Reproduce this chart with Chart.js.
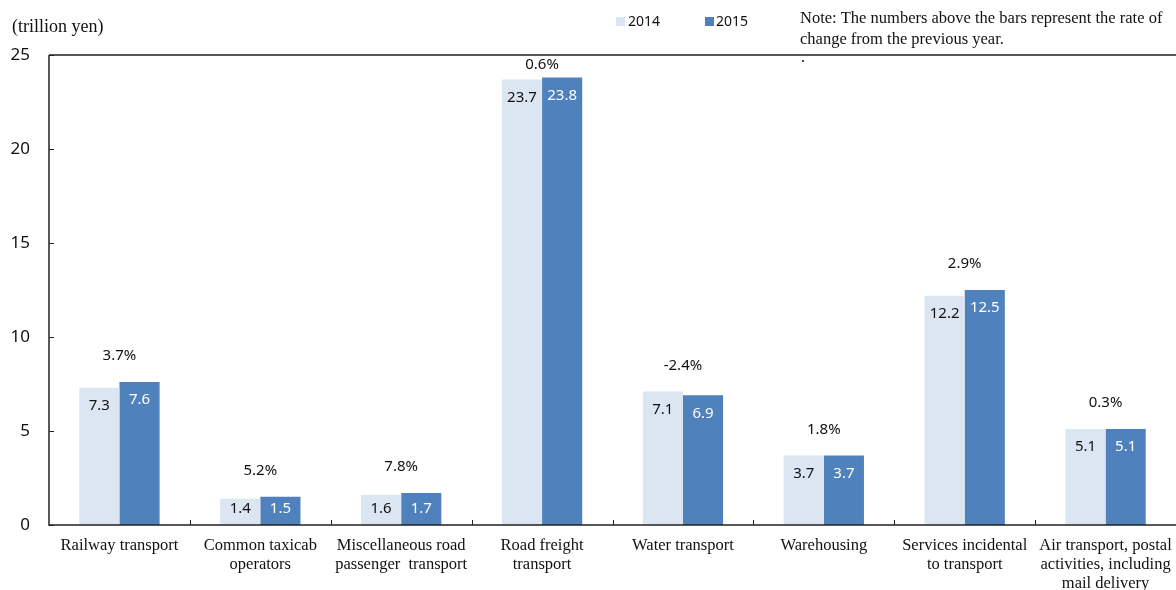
<!DOCTYPE html>
<html lang="en">
<head>
  <meta charset="UTF-8">
  <title>Transport industry output</title>
  <script src="https://cdn.jsdelivr.net/npm/chart.js"></script>
  <style>
    html, body { margin: 0; padding: 0; background: #fff; }
    #wrap { width: 1176px; height: 590px; position: relative; }
  </style>
</head>
<body>
  <div id="wrap"><canvas id="chart" width="1176" height="590"></canvas></div>

  <script>
    const categories = [
      ['Railway transport'],
      ['Common taxicab', 'operators'],
      ['Miscellaneous road', 'passenger  transport'],
      ['Road freight', 'transport'],
      ['Water transport'],
      ['Warehousing'],
      ['Services incidental', 'to transport'],
      ['Air transport, postal', 'activities, including', 'mail delivery']
    ];
    const values2014 = [7.3, 1.4, 1.6, 23.7, 7.1, 3.7, 12.2, 5.1];
    const values2015 = [7.6, 1.5, 1.7, 23.8, 6.9, 3.7, 12.5, 5.1];
    const changeRates = ['3.7%', '5.2%', '7.8%', '0.6%', '-2.4%', '1.8%', '2.9%', '0.3%'];
    const yTicks = [0, 5, 10, 15, 20, 25];

    const sans = '"Noto Sans", sans-serif';
    const serif = '"Liberation Serif", "Times New Roman", serif';

    // labels, frame, ticks, legend and notes
    const extras = {
      id: 'extras',
      afterDatasetsDraw(chart) {
        const ctx = chart.ctx;
        const area = chart.chartArea;
        const y = chart.scales.y;
        ctx.save();

        // frame: top line + left/bottom axes
        ctx.strokeStyle = '#222';
        ctx.lineWidth = 1.5;
        ctx.beginPath();
        ctx.moveTo(area.left, area.top);
        ctx.lineTo(area.right, area.top);
        ctx.moveTo(area.left, area.top);
        ctx.lineTo(area.left, area.bottom);
        ctx.lineTo(area.right, area.bottom);
        ctx.stroke();

        // inward ticks
        ctx.lineWidth = 1;
        ctx.beginPath();
        yTicks.forEach(v => {
          const py = Math.round(y.getPixelForValue(v)) + 0.5;
          ctx.moveTo(area.left, py);
          ctx.lineTo(area.left + 5, py);
        });
        const step = (area.right - area.left) / categories.length;
        for (let i = 1; i < categories.length; i++) {
          const px = Math.round(area.left + step * i) + 0.5;
          ctx.moveTo(px, area.bottom);
          ctx.lineTo(px, area.bottom - 5);
        }
        ctx.stroke();

        // value labels inside bars
        ctx.font = '15px ' + sans;
        ctx.textAlign = 'center';
        ctx.textBaseline = 'middle';
        const m0 = chart.getDatasetMeta(0).data;
        const m1 = chart.getDatasetMeta(1).data;
        [[m0, values2014, '#111'], [m1, values2015, '#fff']].forEach(([bars, vals, col]) => {
          ctx.fillStyle = col;
          bars.forEach((b, i) => {
            const ly = Math.min(b.y + 18, b.base - 16);
            ctx.fillText(vals[i].toFixed(1), b.x, ly);
          });
        });

        // rate of change above each group
        ctx.fillStyle = '#111';
        changeRates.forEach((r, i) => {
          const top = Math.min(m0[i].y, m1[i].y);
          const cx = (m0[i].x + m1[i].x) / 2;
          ctx.fillText(r, cx, Math.max(top - 26, 65));
        });

        // legend
        ctx.font = '14px ' + sans;
        ctx.textAlign = 'left';
        ctx.fillStyle = '#dce6f2';
        ctx.fillRect(616, 17, 9, 9);
        ctx.fillStyle = '#4f81bd';
        ctx.fillRect(705, 17, 9, 9);
        ctx.fillStyle = '#111';
        ctx.fillText('2014', 628, 22);
        ctx.fillText('2015', 716, 22);

        // unit and note
        ctx.font = '18px ' + serif;
        ctx.fillText('(trillion yen)', 12, 27);
        ctx.font = '16.5px ' + serif;
        ctx.fillText('Note: The numbers above the bars represent the rate of', 800, 19);
        ctx.fillText('change from the previous year.', 800, 40);
        ctx.fillText('.', 801, 58);

        ctx.restore();
      }
    };

    new Chart(document.getElementById('chart').getContext('2d'), {
      type: 'bar',
      data: {
        labels: categories,
        datasets: [
          {
            label: '2014',
            data: values2014,
            backgroundColor: '#dce6f2',
            borderWidth: 0
          },
          {
            label: '2015',
            data: values2015,
            backgroundColor: '#4f81bd',
            borderWidth: 0
          }
        ]
      },
      options: {
        responsive: false,
        animation: false,
        layout: { padding: { top: 55, right: 0, left: 0, bottom: 0 } },
        plugins: {
          legend: { display: false },
          tooltip: { enabled: false }
        },
        datasets: {
          bar: { categoryPercentage: 0.57, barPercentage: 1 }
        },
        scales: {
          x: {
            grid: { display: false, drawTicks: false },
            border: { display: false },
            ticks: {
              color: '#111',
              font: { family: serif, size: 16.5, lineHeight: 1.15 },
              padding: 11,
              maxRotation: 0,
              autoSkip: false
            },
            afterFit(scale) {
              scale.height = 65;
              scale.paddingLeft = 0;
              scale.paddingRight = 0;
            }
          },
          y: {
            min: 0,
            max: 25,
            afterBuildTicks(scale) { scale.ticks = yTicks.map(v => ({ value: v })); },
            grid: { display: false, drawTicks: false },
            border: { display: false },
            ticks: {
              color: '#111',
              font: { family: sans, size: 17 },
              padding: 19
            },
            afterFit(scale) {
              scale.width = 49;
              scale.paddingTop = 0;
              scale.paddingBottom = 0;
            }
          }
        }
      },
      plugins: [extras]
    });
  </script>
</body>
</html>
